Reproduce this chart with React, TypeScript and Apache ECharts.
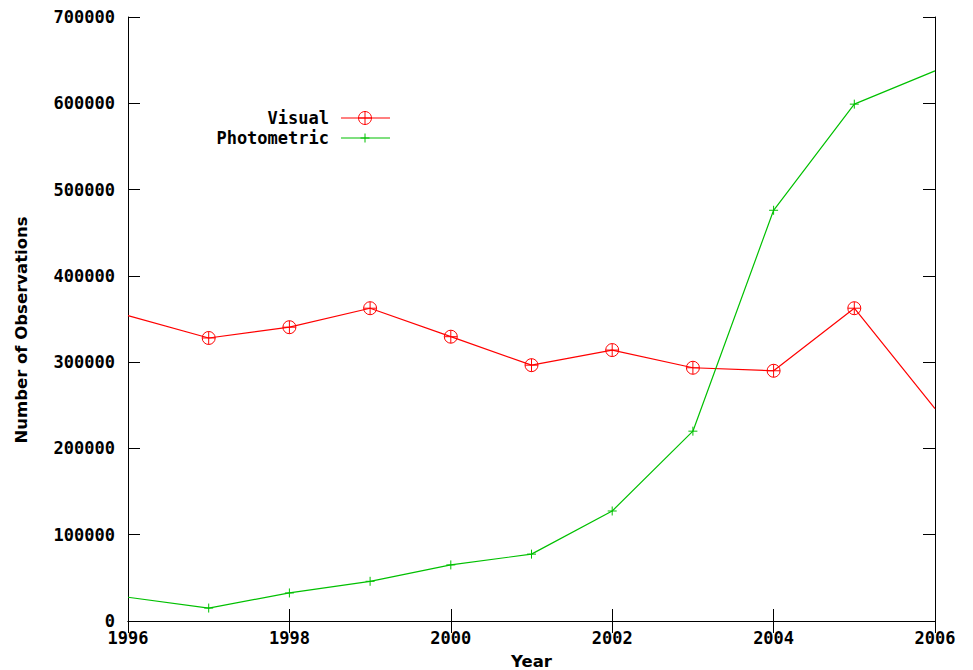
import React, { useEffect, useRef } from "react";
import * as echarts from "echarts";

const years = [1996, 1997, 1998, 1999, 2000, 2001, 2002, 2003, 2004, 2005, 2006];
const visual = [354000, 328000, 340500, 362500, 329500, 296500, 314000, 293500, 290000, 362500, 246000];
const photometric = [27500, 15000, 32500, 46000, 65000, 77500, 127500, 220000, 476000, 599000, 637500];
const seriesNames = ["Visual", "Photometric"];

const RED = "#ff0000";
const GREEN = "#00c000";
const tickFont = "'DejaVu Sans Mono', 'Liberation Mono', monospace";
const nameFont = "'DejaVu Sans', sans-serif";

const circlePlus = "path://M0,6.5 A6.5,6.5 0 1,1 13,6.5 A6.5,6.5 0 1,1 0,6.5 Z M6.5,0 L6.5,13 M0,6.5 L13,6.5";
const plus = "path://M4.5,0 L4.5,9 M0,4.5 L9,4.5";

function build(values: number[]) {
  return values.map((v, i) => {
    const item: any = { value: [years[i], v] };
    if (i === 0 || i === values.length - 1) item.symbol = "none";
    return item;
  });
}

export default function App() {
  const ref = useRef<HTMLDivElement>(null);
  useEffect(() => {
    if (!ref.current) return;
    const chart = echarts.init(ref.current, null, { renderer: "svg" });
    const axisLine = { show: true, lineStyle: { color: "#000", width: 1 } };
    const axisTick = { show: true, inside: true, length: 12, lineStyle: { color: "#000", width: 1 } };
    const legendY = [118, 138];
    const graphicEls: any[] = [];
    seriesNames.forEach((name, i) => {
      const y = legendY[i];
      const color = i === 0 ? RED : GREEN;
      graphicEls.push({
        type: "text",
        x: 329,
        y,
        style: {
          text: name,
          align: "right",
          verticalAlign: "middle",
          font: `bold 17px ${tickFont}`,
          fill: "#000",
        },
      });
      graphicEls.push({
        type: "line",
        shape: { x1: 341, y1: y, x2: 390, y2: y },
        style: { stroke: color, lineWidth: 1.2 },
      });
      if (i === 0) {
        graphicEls.push({
          type: "circle",
          shape: { cx: 365, cy: y, r: 6.5 },
          style: { fill: "none", stroke: color, lineWidth: 1 },
        });
      }
      const h = i === 0 ? 6.5 : 4.5;
      graphicEls.push({
        type: "line",
        shape: { x1: 365, y1: y - h, x2: 365, y2: y + h },
        style: { stroke: color, lineWidth: 1 },
      });
      graphicEls.push({
        type: "line",
        shape: { x1: 365 - h, y1: y, x2: 365 + h, y2: y },
        style: { stroke: color, lineWidth: 1 },
      });
    });

    const plain = (v: number) => String(v);

    chart.setOption({
      animation: false,
      backgroundColor: "#fff",
      grid: { left: 128, right: 38, top: 17, bottom: 49, containLabel: false, outerBoundsMode: "none" },
      xAxis: [
        {
          type: "value",
          position: "bottom",
          min: 1996,
          max: 2006,
          interval: 2,
          name: "Year",
          nameLocation: "middle",
          nameGap: 32,
          nameTextStyle: { fontFamily: nameFont, fontWeight: "bold", fontSize: 16.5, color: "#000" },
          axisLine,
          axisTick,
          splitLine: { show: false },
          axisLabel: { margin: 8, formatter: plain, fontFamily: tickFont, fontWeight: "bold", fontSize: 17, color: "#000" },
        },
        {
          type: "value",
          position: "top",
          min: 1996,
          max: 2006,
          interval: 2,
          axisLine,
          axisTick,
          splitLine: { show: false },
          axisLabel: { show: false },
        },
      ],
      yAxis: [
        {
          type: "value",
          position: "left",
          min: 0,
          max: 700000,
          interval: 100000,
          name: "Number of Observations",
          nameLocation: "middle",
          nameGap: 98,
          nameTextStyle: {
            fontFamily: nameFont,
            fontWeight: "bold",
            fontSize: 16.5,
            color: "#000",
            padding: [0, 22, 0, 0],
          },
          axisLine,
          axisTick,
          splitLine: { show: false },
          axisLabel: { margin: 13, formatter: plain, fontFamily: tickFont, fontWeight: "bold", fontSize: 17, color: "#000" },
        },
        {
          type: "value",
          position: "right",
          min: 0,
          max: 700000,
          interval: 100000,
          axisLine,
          axisTick,
          splitLine: { show: false },
          axisLabel: { show: false },
        },
      ],
      series: [
        {
          name: seriesNames[0],
          type: "line",
          data: build(visual),
          symbol: circlePlus,
          symbolSize: 13,
          showAllSymbol: true,
          lineStyle: { color: RED, width: 1.2 },
          itemStyle: { color: "rgba(0,0,0,0)", borderColor: RED, borderWidth: 1 },
          z: 3,
        },
        {
          name: seriesNames[1],
          type: "line",
          data: build(photometric),
          symbol: plus,
          symbolSize: 9,
          showAllSymbol: true,
          lineStyle: { color: GREEN, width: 1.2 },
          itemStyle: { color: "rgba(0,0,0,0)", borderColor: GREEN, borderWidth: 1 },
          z: 3,
        },
      ],
      graphic: graphicEls,
    });
    return () => chart.dispose();
  }, []);
  return (
    <div
      ref={ref}
      style={{ position: "fixed", left: 0, top: 0, width: 973, height: 670, background: "#fff" }}
    />
  );
}
